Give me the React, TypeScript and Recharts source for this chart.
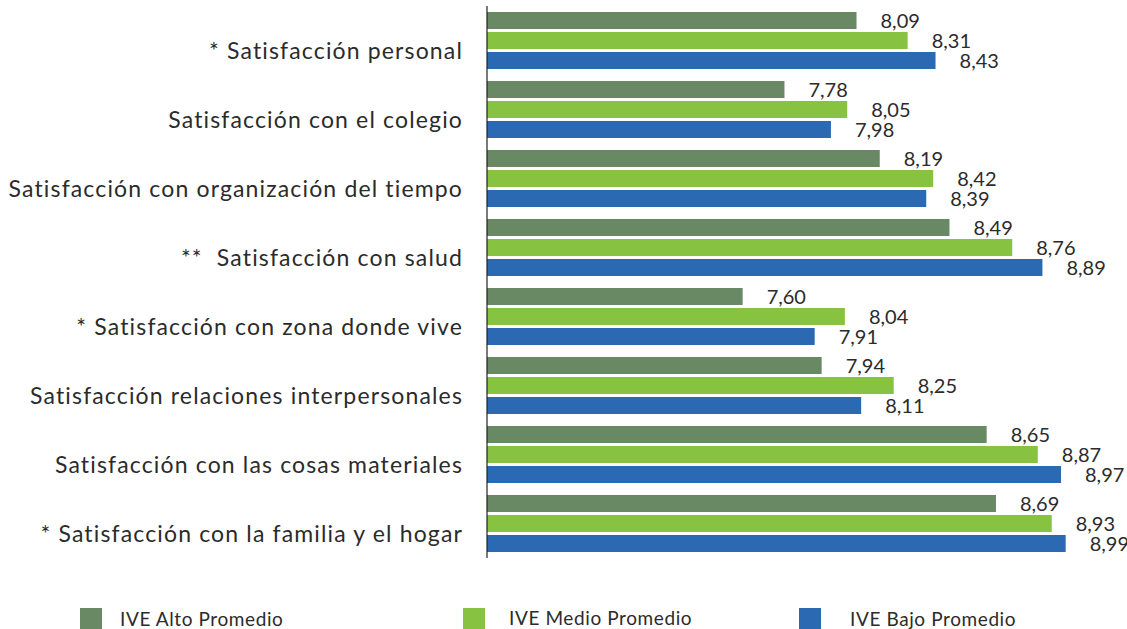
import { BarChart, Bar, XAxis, YAxis, LabelList } from "recharts";

const categories = [
  "* Satisfacción personal",
  "Satisfacción con el colegio",
  "Satisfacción con organización del tiempo",
  "**  Satisfacción con salud",
  "* Satisfacción con zona donde vive",
  "Satisfacción relaciones interpersonales",
  "Satisfacción con las cosas materiales",
  "* Satisfacción con la familia y el hogar",
];
const alto = [8.09, 7.78, 8.19, 8.49, 7.6, 7.94, 8.65, 8.69];
const medio = [8.31, 8.05, 8.42, 8.76, 8.04, 8.25, 8.87, 8.93];
const bajo = [8.43, 7.98, 8.39, 8.89, 7.91, 8.11, 8.97, 8.99];

const series = [
  { key: "alto", name: "IVE Alto Promedio", color: "#688964" },
  { key: "medio", name: "IVE Medio Promedio", color: "#87c340" },
  { key: "bajo", name: "IVE Bajo Promedio", color: "#2b6ab3" },
];

const data = categories.map((name, i) => ({
  name,
  alto: alto[i],
  medio: medio[i],
  bajo: bajo[i],
}));

const FONT = "Lato, 'Open Sans', sans-serif";
const TEXT = "#2b2b2b";

const fmt = (v: any) => Number(v).toFixed(2).replace(".", ",");

const CategoryTick = (props: any) => {
  const { x, y, payload } = props;
  return (
    <text
      x={x}
      y={y + 9}
      textAnchor="end"
      dominantBaseline="central"
      fontFamily={FONT}
      fontSize={23}
      letterSpacing={1.15}
      fill={TEXT}
      style={{ whiteSpace: "pre" }}
    >
      {payload.value}
    </text>
  );
};

// legend boxes placed like the original
const legendPos = [
  { box: 80, text: 120, top: 608 },
  { box: 463, text: 509, top: 607 },
  { box: 799, text: 850, top: 608 },
];

export default function App() {
  return (
    <div
      style={{
        position: "absolute",
        left: 0,
        top: 0,
        width: 1127,
        height: 629,
        background: "#fff",
        overflow: "hidden",
      }}
    >
      <BarChart
        width={1127}
        height={629}
        data={data}
        layout="vertical"
        margin={{ top: 6, right: 59, bottom: 71, left: 0 }}
        barSize={17}
        barGap={3}
      >
        <XAxis type="number" domain={[6.5, 9]} hide allowDataOverflow />
        <YAxis
          type="category"
          dataKey="name"
          width={487}
          axisLine={{ stroke: "#231f20", strokeWidth: 1.2 }}
          tickLine={false}
          tickSize={0}
          tickMargin={24}
          interval={0}
          tick={<CategoryTick />}
        />
        {series.map((s) => (
          <Bar
            key={s.key}
            dataKey={s.key}
            name={s.name}
            fill={s.color}
            isAnimationActive={false}
          >
            <LabelList
              dataKey={s.key}
              position="right"
              offset={24}
              formatter={fmt}
              fontFamily={FONT}
              fontSize={20}
              fill={TEXT}
            />
          </Bar>
        ))}
      </BarChart>
      {series.map((s, i) => (
        <div key={s.key}>
          <div
            style={{
              position: "absolute",
              left: legendPos[i].box,
              top: 608,
              width: 22,
              height: 22,
              background: s.color,
            }}
          />
          <div
            style={{
              position: "absolute",
              left: legendPos[i].text,
              top: legendPos[i].top,
              fontFamily: FONT,
              fontSize: 19,
              letterSpacing: 0.6,
              color: TEXT,
              whiteSpace: "nowrap",
              lineHeight: "22px",
            }}
          >
            {s.name}
          </div>
        </div>
      ))}
    </div>
  );
}
